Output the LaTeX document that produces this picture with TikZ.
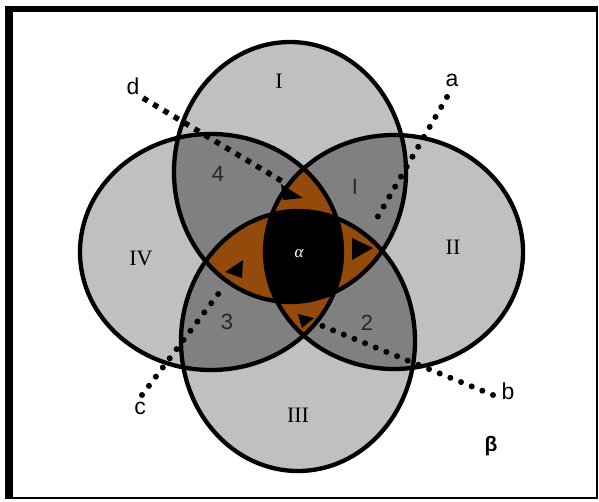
\documentclass[tikz,border=0pt]{standalone}
\usepackage{fontspec}
\setmainfont{Liberation Serif}
\setsansfont{Liberation Sans}
\definecolor{lgray}{RGB}{192,192,192}
\definecolor{dgray}{RGB}{128,128,128}
\definecolor{brownx}{RGB}{148,74,10}
\begin{document}
\begin{tikzpicture}[x=1pt,y=-1pt,
  pT/.style={insert path={(290,172) ellipse [x radius=116pt, y radius=130pt]}},
  pB/.style={insert path={(298,341) ellipse [x radius=117pt, y radius=130pt]}},
  pL/.style={insert path={(211,252) ellipse [x radius=131pt, y radius=118pt]}},
  pR/.style={insert path={(394,252) ellipse [x radius=129pt, y radius=117pt]}},
  outline/.style={draw=black,line width=4.3pt},
  rdots/.style={line width=6pt,line cap=round,dash pattern=on 0pt off 11.5pt},
  sdots/.style={line width=5.5pt,dash pattern=on 5.5pt off 6.5pt},
  roman/.style={font=\fontsize{22}{22}\selectfont},
  digit/.style={font=\sffamily\fontsize{22}{22}\selectfont, text=black!85},
  letter/.style={font=\sffamily\fontsize{23}{23}\selectfont},
  tip/.style={fill=black}]
\useasboundingbox (0,0) rectangle (599,501);
\fill[white] (0,0) rectangle (599,501);
% frame
\fill[black] (5,6) rectangle (13,499);
\fill[black] (5,6) rectangle (598,12);
\draw[line width=2pt] (597,6) -- (597,499);
\draw[line width=2pt] (5,498) -- (598,498);
% single regions
\fill[lgray,pT]; \fill[lgray,pB]; \fill[lgray,pL]; \fill[lgray,pR];
% pairs
\begin{scope}\clip[pT]; \fill[dgray,pB]; \fill[dgray,pL]; \fill[dgray,pR];\end{scope}
\begin{scope}\clip[pB]; \fill[dgray,pL]; \fill[dgray,pR];\end{scope}
\begin{scope}\clip[pL]; \fill[dgray,pR];\end{scope}
% triples
\begin{scope}\clip[pT]; \clip[pB]; \fill[brownx,pL]; \fill[brownx,pR];\end{scope}
\begin{scope}\clip[pL]; \clip[pR]; \fill[brownx,pT]; \fill[brownx,pB];\end{scope}
% quadruple
\begin{scope}\clip[pT]; \clip[pB]; \clip[pL]; \fill[black,pR];\end{scope}
% arrow tips
\fill[tip] (281,184) -- (303,198) -- (283,200) -- cycle;
\fill[tip] (352,238) -- (352,260) -- (373,248) -- cycle;
\fill[tip] (225,272) -- (243,260) -- (242,278) -- cycle;
\fill[tip] (298,314) -- (314,318) -- (302,328) -- cycle;
% outlines
\draw[outline,pT]; \draw[outline,pB]; \draw[outline,pL]; \draw[outline,pR];
% connectors
\coordinate (dS) at (143,98);  \coordinate (dE) at (285,183);
\coordinate (aS) at (447,97);  \coordinate (aE) at (373,225);
\coordinate (bS) at (493,395); \coordinate (bE) at (320,325);
\coordinate (cS) at (142,395); \coordinate (cE) at (225,285);
\draw[sdots] (dS) -- (dE);
\draw[rdots] (aS) -- (aE);
\draw[rdots] (bS) -- (bE);
\draw[rdots] (cS) -- (cE);
% labels
\node[roman] (nI) at (279,81) {I};
\node[roman] (nII) at (453,247) {II};
\node[roman] (nIII) at (298,415) {III};
\node[roman] (nIV) at (141,258) {IV};
\node[digit] (n4) at (218,174) {4};
\node[digit] (n1) at (355,187) {I};
\node[digit] (n2) at (367,323) {2};
\node[digit] (n3) at (227,322) {3};
\node[text=white,font=\itshape\fontsize{17}{17}\selectfont] (nal) at (299,254) {α};
\node[letter] (la) at (452,80) {a};
\node[letter] (lb) at (508,391) {b};
\node[letter] (lc) at (140,408) {c};
\node[letter] (ld) at (133,86) {d};
\node[font=\sffamily\bfseries\fontsize{21}{21}\selectfont] (lbeta) at (491,446) {β};
\end{tikzpicture}
\end{document}
